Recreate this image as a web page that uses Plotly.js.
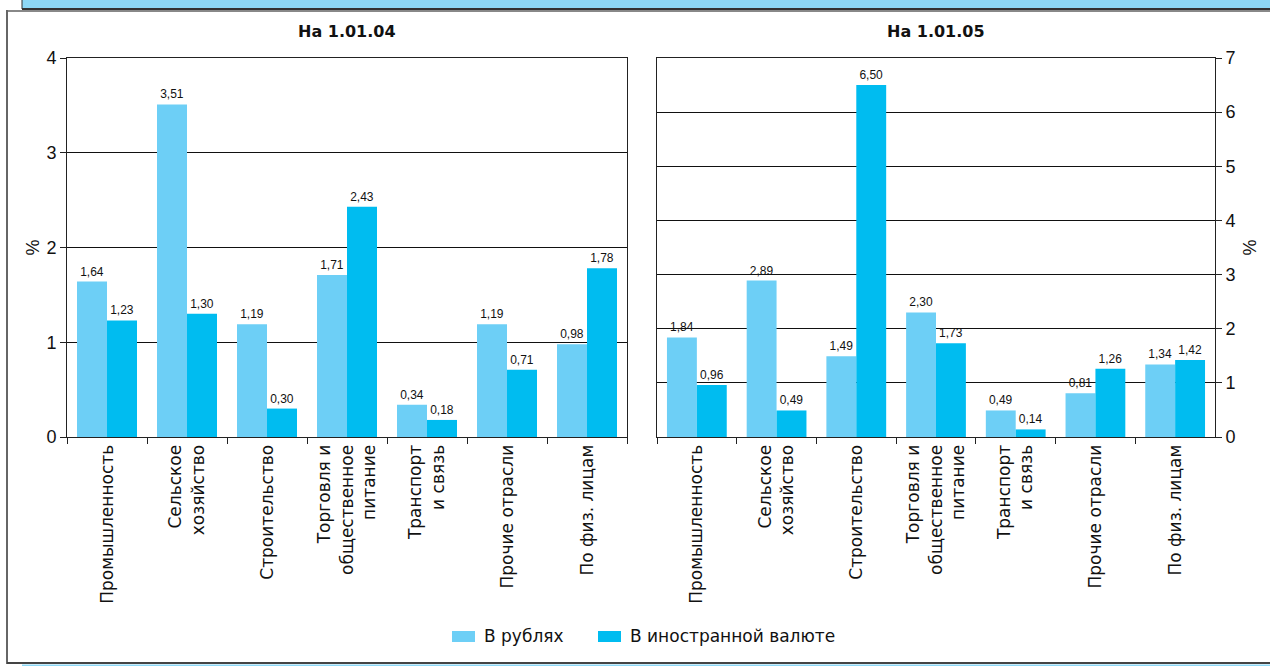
<!DOCTYPE html>
<html>
<head>
<meta charset="utf-8">
<script src="https://cdn.plot.ly/plotly-3.0.1.min.js"></script>
<style>
html,body{margin:0;padding:0;background:#fff;}
#chart{width:1270px;height:666px;}
</style>
</head>
<body>
<div id="chart"></div>
<script>
const categories = [
  "Промышленность",
  "Сельское<br>хозяйство",
  "Строительство",
  "Торговля и<br>общественное<br>питание",
  "Транспорт<br>и связь",
  "Прочие отрасли",
  "По физ. лицам"
];
const seriesNames = ["В рублях", "В иностранной валюте"];
const titles = ["На 1.01.04", "На 1.01.05"];

const rub2004 = [1.64, 3.51, 1.19, 1.71, 0.34, 1.19, 0.98];
const fx2004  = [1.23, 1.30, 0.30, 2.43, 0.18, 0.71, 1.78];
const rub2005 = [1.84, 2.89, 1.49, 2.30, 0.49, 0.81, 1.34];
const fx2005  = [0.96, 0.49, 6.50, 1.73, 0.14, 1.26, 1.42];

const yTicks2004 = [0, 1, 2, 3, 4];
const yTicks2005 = [0, 1, 2, 3, 4, 5, 6, 7];

const W = 1270, H = 666;
const px = v => v / W;
const py = v => (H - v) / H;

const LIGHT = "#6dcff6";
const DARK = "#00bcf0";
const FONT = "Liberation Sans, Arial, sans-serif";
const WIDE = "DejaVu Sans, Liberation Sans, sans-serif";
const NARROW = "Liberation Sans Narrow, Liberation Sans, Arial, sans-serif";

function barTrace(y, name, color, xa, ya) {
  return {
    type: "bar",
    x: categories,
    y: y,
    name: name,
    xaxis: xa,
    yaxis: ya,
    marker: {color: color, line: {width: 0}},
    texttemplate: "%{y:.2f}",
    textposition: "outside",
    textfont: {family: NARROW, size: 12, color: "#111"},
    cliponaxis: false,
    showlegend: false,
    hoverinfo: "skip"
  };
}

const data = [
  barTrace(rub2004, seriesNames[0], LIGHT, "x", "y"),
  barTrace(fx2004, seriesNames[1], DARK, "x", "y"),
  barTrace(rub2005, seriesNames[0], LIGHT, "x2", "y2"),
  barTrace(fx2005, seriesNames[1], DARK, "x2", "y2")
];

const xBase = {
  type: "category",
  tickson: "boundaries",
  ticks: "outside",
  ticklen: 6,
  tickcolor: "#222",
  tickangle: -90,
  tickfont: {family: WIDE, size: 17, color: "#111"},
  showline: true,
  linecolor: "#222",
  linewidth: 1,
  mirror: true,
  showgrid: false,
  zeroline: false,
  fixedrange: true
};

const yBase = {
  ticks: "outside",
  ticklen: 6,
  tickcolor: "#222",
  tickfont: {family: FONT, size: 18, color: "#111"},
  showline: true,
  linecolor: "#222",
  linewidth: 1,
  mirror: true,
  showgrid: true,
  gridcolor: "#111",
  gridwidth: 1,
  zeroline: false,
  fixedrange: true
};

const legendItems = [
  {name: seriesNames[0], color: LIGHT, x0: 452, tx: 482},
  {name: seriesNames[1], color: DARK, x0: 598, tx: 628}
];

const annotations = [
  {text: "<b>" + titles[0] + "</b>", xref: "paper", yref: "paper",
   x: px(347), y: py(31), xanchor: "center", yanchor: "middle",
   showarrow: false, font: {family: WIDE, size: 16, color: "#111"}},
  {text: "<b>" + titles[1] + "</b>", xref: "paper", yref: "paper",
   x: px(936), y: py(31), xanchor: "center", yanchor: "middle",
   showarrow: false, font: {family: WIDE, size: 16, color: "#111"}}
];
legendItems.forEach(it => annotations.push({
  text: it.name, xref: "paper", yref: "paper",
  x: px(it.tx), y: py(636), xanchor: "left", yanchor: "middle",
  showarrow: false, font: {family: WIDE, size: 17, color: "#111"}
}));

const shapes = [
  {type: "rect", xref: "paper", yref: "paper", x0: px(22), x1: px(1272), y0: py(9), y1: py(-2),
   fillcolor: "#8dd8f6", line: {width: 0}, layer: "below"},
  {type: "line", xref: "paper", yref: "paper", x0: px(22), x1: px(1272), y0: py(9), y1: py(9),
   line: {color: "#333", width: 2}},
  {type: "line", xref: "paper", yref: "paper", x0: px(22), x1: px(22), y0: py(9), y1: py(-2),
   line: {color: "#333", width: 1}},
  {type: "line", xref: "paper", yref: "paper", x0: px(7), x1: px(1272), y0: py(11), y1: py(11),
   line: {color: "#888", width: 2}},
  {type: "line", xref: "paper", yref: "paper", x0: px(7), x1: px(7), y0: py(10), y1: py(664),
   line: {color: "#666", width: 2}},
  {type: "line", xref: "paper", yref: "paper", x0: px(7), x1: px(1272), y0: py(663), y1: py(663),
   line: {color: "#444", width: 2}},
  {type: "rect", xref: "paper", yref: "paper", x0: px(22), x1: px(1272), y0: py(664.5), y1: py(668),
   fillcolor: "#8dd8f6", line: {width: 0}}
];
legendItems.forEach(it => shapes.push({
  type: "rect", xref: "paper", yref: "paper",
  x0: px(it.x0), x1: px(it.x0 + 23), y0: py(642), y1: py(631),
  fillcolor: it.color, line: {width: 0}
}));

const layout = {
  width: W,
  height: H,
  margin: {l: 0, r: 0, t: 0, b: 0},
  paper_bgcolor: "#fff",
  plot_bgcolor: "#fff",
  separators: ", ",
  barmode: "group",
  bargap: 0.25,
  bargroupgap: 0,
  showlegend: false,
  font: {family: FONT, color: "#111"},
  xaxis: Object.assign({}, xBase, {domain: [px(67), px(627)], anchor: "y"}),
  xaxis2: Object.assign({}, xBase, {domain: [px(657), px(1215)], anchor: "y2"}),
  yaxis: Object.assign({}, yBase, {
    domain: [py(437), py(58)], anchor: "x",
    range: [0, 4], tickvals: yTicks2004, ticktext: yTicks2004.map(String),
    side: "left",
    title: {text: "%", font: {family: FONT, size: 18, color: "#111"}, standoff: 2}
  }),
  yaxis2: Object.assign({}, yBase, {
    domain: [py(437), py(58)], anchor: "x2",
    range: [0, 7], tickvals: yTicks2005, ticktext: yTicks2005.map(String),
    side: "right",
    title: {text: "%", font: {family: FONT, size: 18, color: "#111"}, standoff: 8}
  }),
  annotations: annotations,
  shapes: shapes
};

Plotly.newPlot("chart", data, layout, {staticPlot: true, displayModeBar: false});
</script>
</body>
</html>
